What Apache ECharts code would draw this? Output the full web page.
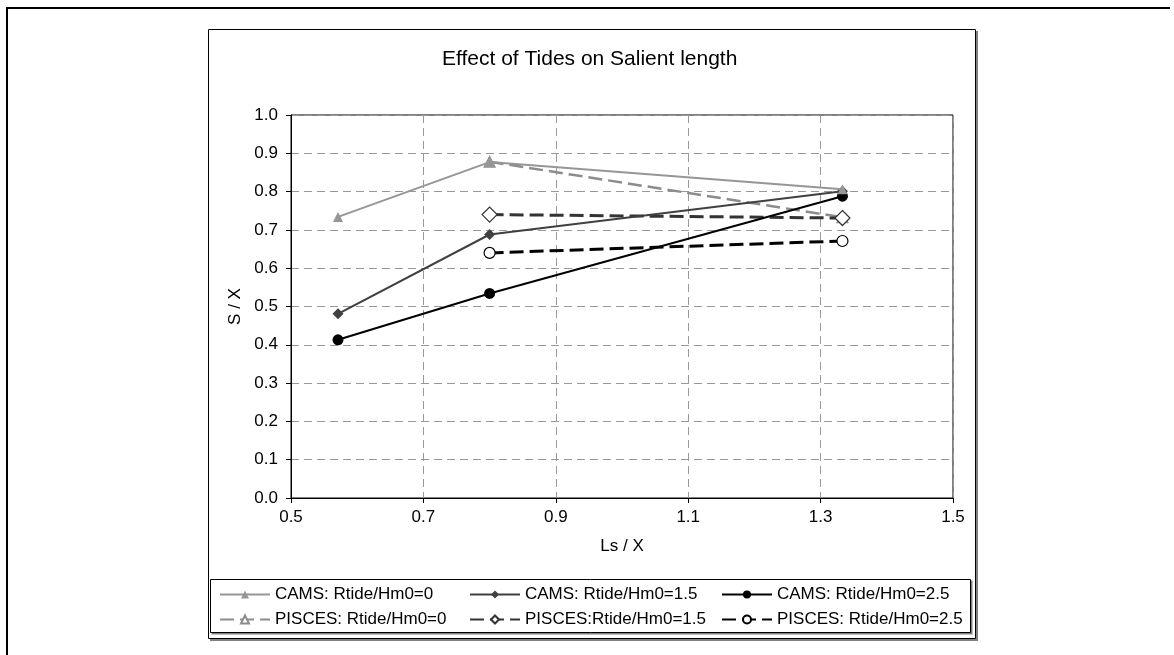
<!DOCTYPE html>
<html>
<head>
<meta charset="utf-8">
<title>Effect of Tides on Salient length</title>
<script src="https://cdn.jsdelivr.net/npm/echarts@6/dist/echarts.min.js"></script>
<style>
    html, body { margin: 0; padding: 0; background: #fff; }
    #chart { width: 1174px; height: 655px; }
</style>
</head>
<body>
<div id="chart"></div>
<script>
/************************    数据     ****************************/
var xTicks = [0.5, 0.7, 0.9, 1.1, 1.3, 1.5];

var camsTide0 = [[0.571, 0.734], [0.8, 0.877], [1.333, 0.806]];
var camsTide15 = [[0.571, 0.481], [0.8, 0.688], [1.333, 0.801]];
var camsTide25 = [[0.571, 0.413], [0.8, 0.534], [1.333, 0.788]];

var piscesTide0 = [[0.8, 0.878], [1.333, 0.733]];
var piscesTide15 = [[0.8, 0.740], [1.333, 0.731]];
var piscesTide25 = [[0.8, 0.640], [1.333, 0.671]];

var seriesNames = [
    'CAMS: Rtide/Hm0=0', 'CAMS: Rtide/Hm0=1.5', 'CAMS: Rtide/Hm0=2.5',
    'PISCES: Rtide/Hm0=0', 'PISCES:Rtide/Hm0=1.5', 'PISCES: Rtide/Hm0=2.5'
];

var FONT = '"Liberation Sans", Arial, sans-serif';

/************************    渲染     ****************************/
var chart = echarts.init(document.getElementById('chart'));
chart.setOption(chartOption());

function lineSeries(name, data, color, width, dash, symbol, size, open, z) {
    return {
        name: name,
        type: 'line',
        z: z,
        data: data,
        symbol: symbol,
        symbolSize: size,
        showSymbol: true,
        animation: false,
        lineStyle: { color: color, width: width, type: dash },
        itemStyle: open
            ? { color: '#fff', borderColor: color, borderWidth: 1.2 }
            : { color: color, borderColor: color, borderWidth: 0 },
        emphasis: { disabled: true }
    };
}

function legendColumn(left, names) {
    return {
        orient: 'vertical',
        left: left,
        top: 586,
        itemWidth: 50,
        itemHeight: 10,
        itemGap: 8,
        padding: 0,
        data: names,
        selectedMode: false,
        textStyle: { fontFamily: FONT, fontSize: 17, color: '#000' }
    };
}

function chartOption() {
    return {
        backgroundColor: '#fff',
        animation: false,
        title: {
            text: 'Effect of Tides on Salient length',
            left: 442,
            top: 49,
            padding: 0,
            textStyle: { fontFamily: FONT, fontSize: 21, fontWeight: 'normal', color: '#000' }
        },
        /* 外框、图表区、图例框 */
        graphic: [
            { type: 'polyline', z: -20, silent: true, shape: { points: [[7, 660], [7, 8], [1170, 8]] },
              style: { fill: null, stroke: '#000', lineWidth: 2 } },
            { type: 'rect', z: -19, silent: true, shape: { x: 210, y: 31, width: 768, height: 610 },
              style: { fill: '#808080', stroke: null } },
            { type: 'rect', z: -18, silent: true, shape: { x: 208.5, y: 29.5, width: 767, height: 609 },
              style: { fill: '#fff', stroke: '#000', lineWidth: 1 } },
            { type: 'rect', z: -17, silent: true, shape: { x: 211.5, y: 580.5, width: 761, height: 54 },
              style: { fill: '#808080', stroke: null } },
            { type: 'rect', z: -16, silent: true, shape: { x: 210.5, y: 579.5, width: 760, height: 53 },
              style: { fill: '#fff', stroke: '#000', lineWidth: 1 } }
        ],
        legend: [
            legendColumn(219, [seriesNames[0], seriesNames[3]]),
            legendColumn(469, [seriesNames[1], seriesNames[4]]),
            legendColumn(721, [seriesNames[2], seriesNames[5]])
        ],
        grid: {
            left: 291,
            right: 221,
            top: 115,
            bottom: 157,
            show: true,
            borderColor: '#000',
            borderWidth: 1,
            backgroundColor: 'transparent',
            containLabel: false
        },
        xAxis: {
            type: 'value',
            min: 0.5,
            max: 1.5,
            name: 'Ls / X',
            nameLocation: 'middle',
            nameGap: 40,
            nameTextStyle: { fontFamily: FONT, fontSize: 17, color: '#000' },
            axisLine: { show: true, lineStyle: { color: '#000', width: 1 } },
            axisTick: { show: true, inside: false, length: 5, lineStyle: { color: '#000' }, customValues: xTicks },
            axisLabel: {
                customValues: xTicks,
                margin: 11,
                fontFamily: FONT, fontSize: 17, color: '#000',
                formatter: function (v) { return v.toFixed(1); }
            },
            splitLine: { show: true, lineStyle: { color: '#999', type: [8, 5], width: 1 } }
        },
        yAxis: {
            type: 'value',
            min: 0,
            max: 1,
            interval: 0.1,
            name: 'S / X',
            nameLocation: 'middle',
            nameGap: 44,
            nameTextStyle: { fontFamily: FONT, fontSize: 17, color: '#000' },
            axisLine: { show: true, lineStyle: { color: '#000', width: 1 } },
            axisTick: { show: true, inside: false, length: 5, lineStyle: { color: '#000' } },
            axisLabel: {
                margin: 13,
                fontFamily: FONT, fontSize: 17, color: '#000',
                formatter: function (v) { return v.toFixed(1); }
            },
            splitLine: { show: true, lineStyle: { color: '#999', type: [8, 5], width: 1 } }
        },
        series: [
            lineSeries(seriesNames[0], camsTide0, '#969696', 2, 'solid', 'triangle', 10, false, 4),
            lineSeries(seriesNames[1], camsTide15, '#404040', 2, 'solid', 'diamond', 11, false, 3),
            lineSeries(seriesNames[2], camsTide25, '#000000', 2, 'solid', 'circle', 11, false, 3),
            lineSeries(seriesNames[3], piscesTide0, '#8c8c8c', 2.5, [14, 6], 'triangle', 11, true, 2),
            lineSeries(seriesNames[4], piscesTide15, '#333333', 3, [14, 6], 'diamond', 15, true, 2),
            lineSeries(seriesNames[5], piscesTide25, '#000000', 3, [14, 6], 'circle', 11, true, 2)
        ]
    };
}
</script>
</body>
</html>
